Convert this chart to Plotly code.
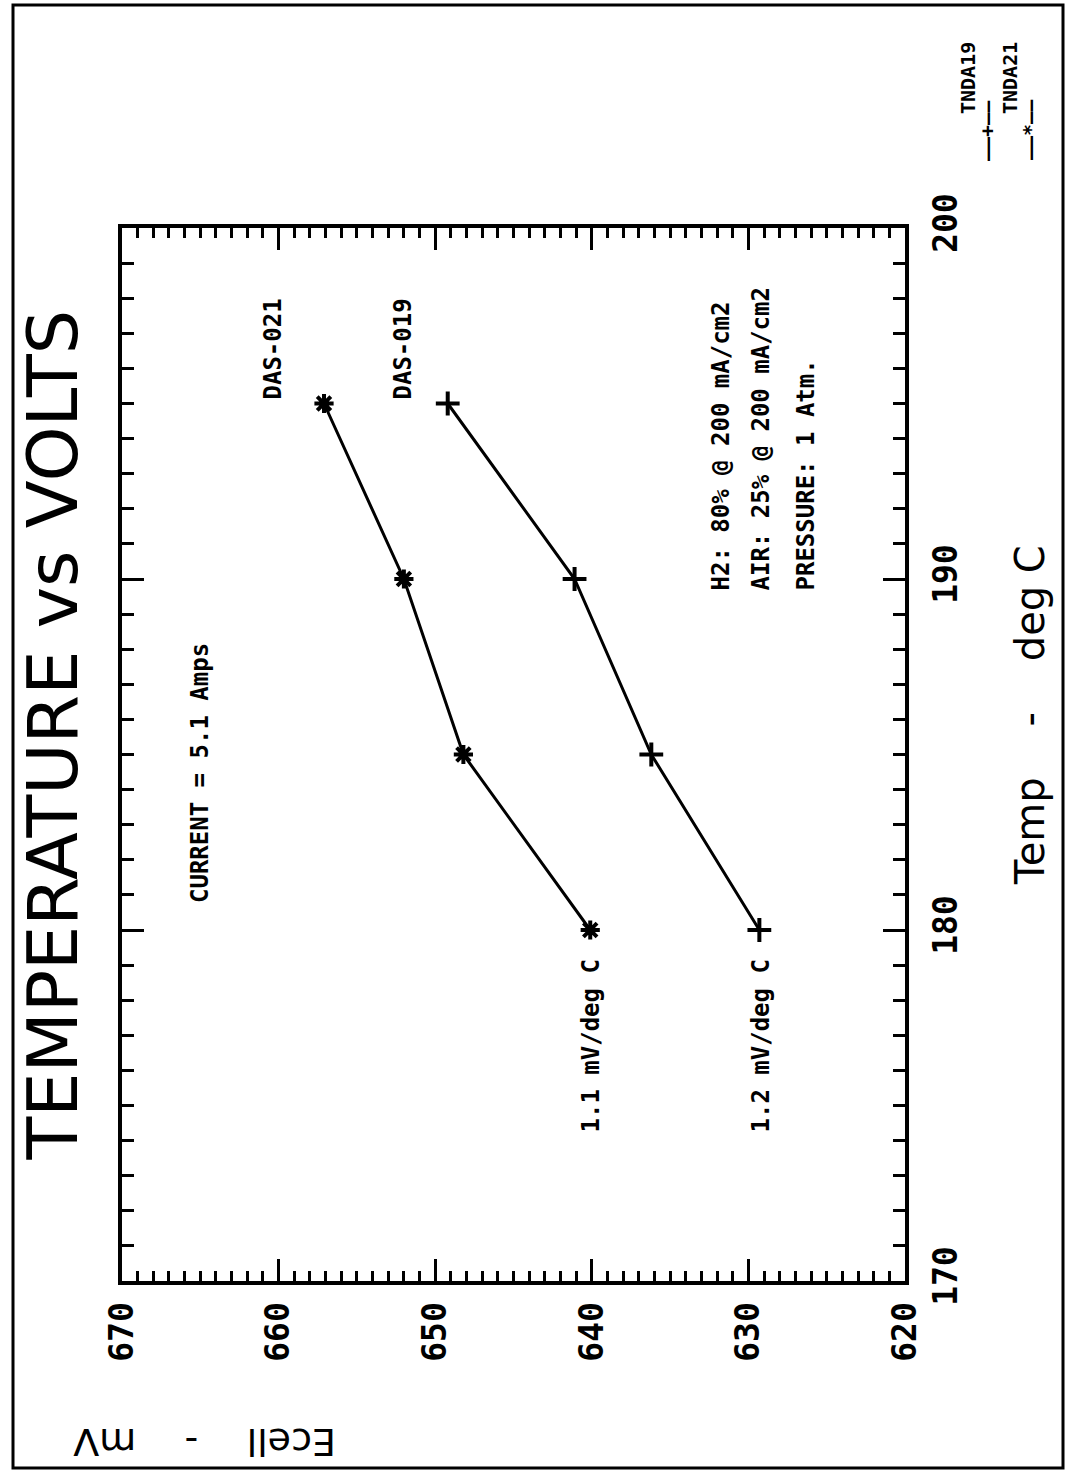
import plotly.graph_objects as go

# ---- data ----
temps = [180, 185, 190, 195]
tnda19_mv = [629.3, 636.2, 641.1, 649.2]
tnda21_mv = [640.1, 648.2, 652.0, 657.1]
mv_ticks = [620, 630, 640, 650, 660, 670]
temp_ticks = [170, 180, 190, 200]
series_names = ["TNDA19", "TNDA21"]

W, H = 1067, 1480
L, R, T, B = 122, 905, 228, 1281  # plot area in pixels


def px(x):
    return (x - L) / (R - L)


def py(y):
    return (B - y) / (B - T)


MONO = "DejaVu Sans Mono"
SANS = "DejaVu Sans"

fig = go.Figure()
fig.add_trace(go.Scatter(
    x=tnda19_mv, y=temps, mode="lines+markers", name=series_names[0],
    line=dict(color="black", width=3),
    marker=dict(symbol="cross-thin", size=17, color="black",
                line=dict(color="black", width=4)),
))
fig.add_trace(go.Scatter(
    x=tnda21_mv, y=temps, mode="lines+markers", name=series_names[1],
    line=dict(color="black", width=3),
    marker=dict(symbol="asterisk", size=16, color="black",
                line=dict(color="black", width=4)),
))

axis_common = dict(
    showgrid=False, zeroline=False, showline=True, linecolor="black",
    linewidth=4, mirror="ticks", ticks="inside", tickcolor="black",
    tickwidth=3, ticklen=22, tickangle=-90,
    tickfont=dict(family=MONO, size=33, color="black", weight="bold"),
)

fig.update_xaxes(
    range=[670, 620], tickvals=mv_ticks, ticktext=[str(v) for v in mv_ticks],
    minor=dict(dtick=1, ticks="inside", ticklen=10, tickwidth=3, tickcolor="black"),
    ticklabelstandoff=4,
    **axis_common,
)
fig.update_yaxes(
    range=[170, 200], tickvals=temp_ticks, ticktext=[str(v) for v in temp_ticks],
    side="right",
    minor=dict(dtick=1, ticks="inside", ticklen=12, tickwidth=3, tickcolor="black"),
    ticklabelstandoff=8,
    **axis_common,
)

ann = []


def text(s, x, y, size, family=MONO, bold=True, angle=-90, xa="center", ya="middle"):
    ann.append(dict(
        text=s, x=px(x), y=py(y), xref="paper", yref="paper", showarrow=False,
        textangle=angle, xanchor=xa, yanchor=ya,
        font=dict(family=family, size=size, color="black",
                  weight="bold" if bold else "normal"),
    ))


# title and axis titles
text("TEMPERATURE vs VOLTS", 52, 1163, 70, family=SANS, bold=False, ya="bottom")
text("Temp\u00a0\u00a0\u00a0\u00a0-\u00a0\u00a0\u00a0\u00a0deg C", 1030, 715, 40,
     family=SANS, bold=False)
text("Ecell\u00a0\u00a0\u00a0\u00a0-\u00a0\u00a0\u00a0\u00a0mV", 205, 1442, 38,
     family=SANS, bold=False, angle=180)

# legend (drawn as text, rotated like the page)
text(series_names[0], 968, 78, 20)
text("\u2013\u2013+\u2013\u2013", 987, 130, 20)
text(series_names[1], 1010, 78, 20)
text("\u2013\u2013*\u2013\u2013", 1030, 130, 20)

# in-plot notes
text("CURRENT = 5.1 Amps", 200, 905, 24, ya="bottom")
text("DAS-021", 272, 402, 24, ya="bottom")
text("DAS-019", 402, 402, 24, ya="bottom")
text("H2: 80% @ 200 mA/cm2", 720, 593, 24, ya="bottom")
text("AIR: 25% @ 200 mA/cm2", 760, 593, 24, ya="bottom")
text("PRESSURE: 1 Atm.", 805, 593, 24, ya="bottom")
text("1.1 mV/deg C", 590, 1135, 24, ya="bottom")
text("1.2 mV/deg C", 760, 1135, 24, ya="bottom")

fig.update_layout(
    width=W, height=H,
    margin=dict(l=L, r=W - R, t=T, b=H - B, pad=0),
    paper_bgcolor="white", plot_bgcolor="white",
    showlegend=False,
    annotations=ann,
    shapes=[dict(type="rect", xref="paper", yref="paper",
                 x0=px(13), x1=px(1063), y0=py(1468), y1=py(5),
                 line=dict(color="black", width=3), layer="below")],
)

fig.write_html("out.html")
